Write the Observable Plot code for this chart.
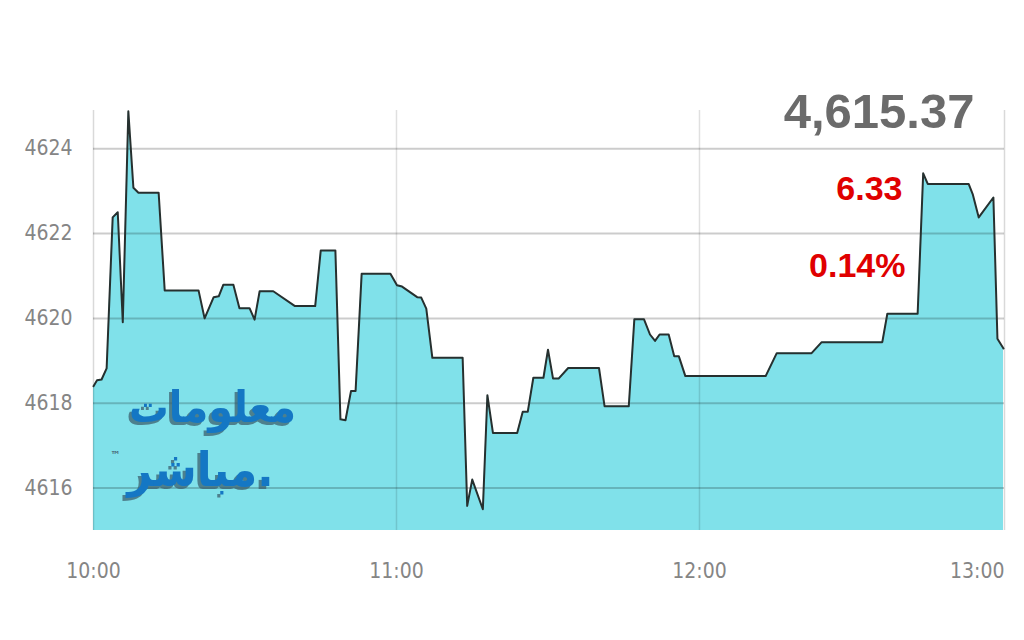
<!DOCTYPE html>
<html>
<head>
<meta charset="utf-8">
<script src="https://cdn.jsdelivr.net/npm/d3@7"></script>
<script src="https://cdn.jsdelivr.net/npm/@observablehq/plot@0.6"></script>
<style>
  html, body { margin: 0; padding: 0; background: #fff; }
  #chart svg { display: block; }
</style>
</head>
<body>
<div id="chart"></div>
<script>
// ---- data ----
const times = [
  "10:00:00","10:00:42","10:01:36","10:02:36","10:03:48","10:04:48","10:05:48","10:06:54","10:07:54","10:08:54",
  "10:12:54","10:14:06","10:20:48","10:22:00","10:23:48","10:24:48","10:25:42","10:27:42","10:28:54","10:30:54",
  "10:31:54","10:32:54","10:35:36","10:39:54","10:43:54","10:45:00","10:47:54","10:48:54","10:49:54","10:51:00",
  "10:51:54","10:53:06","10:58:48","11:00:06","11:01:06","11:04:06","11:04:54","11:05:54","11:07:06","11:13:06",
  "11:14:00","11:15:00","11:17:06","11:18:00","11:19:06","11:23:54","11:25:00","11:26:00","11:27:06","11:29:06",
  "11:30:00","11:31:00","11:32:06","11:34:00","11:40:06","11:41:12","11:46:00","11:47:06","11:49:00","11:50:12",
  "11:51:12","11:52:06","11:53:54","11:55:00","11:55:54","11:57:12","12:13:06","12:15:18","12:22:12","12:24:12",
  "12:36:12","12:37:12","12:43:12","12:44:18","12:45:12","12:53:18","12:54:06","12:55:18","12:58:12","12:59:00",
  "13:00:12"
];
const values = [
  4618.40,4618.54,4618.56,4618.82,4622.38,4622.50,4619.91,4624.88,4623.08,4622.96,
  4622.96,4620.66,4620.66,4620.00,4620.50,4620.52,4620.79,4620.79,4620.24,4620.24,
  4619.97,4620.64,4620.64,4620.29,4620.29,4621.60,4621.60,4617.62,4617.60,4618.29,
  4618.29,4621.05,4621.05,4620.78,4620.75,4620.50,4620.49,4620.23,4619.07,4619.07,
  4615.58,4616.20,4615.50,4618.19,4617.30,4617.30,4617.80,4617.80,4618.60,4618.60,
  4619.26,4618.58,4618.58,4618.83,4618.83,4617.93,4617.93,4619.98,4619.98,4619.62,
  4619.47,4619.62,4619.62,4619.11,4619.11,4618.64,4618.64,4619.18,4619.18,4619.44,
  4619.44,4620.11,4620.11,4623.42,4623.17,4623.17,4622.93,4622.38,4622.85,4619.52,
  4619.29
];
const yTicks = [4616, 4618, 4620, 4622, 4624];
const xTickLabels = ["10:00", "11:00", "12:00", "13:00"];
const xDomainLabels = ["10:00:00", "13:00:24"];
const yDomain = [4615, 4624.9];
const headline = "4,615.37";
const change = "6.33";
const changePct = "0.14%";
const logoLine1 = "معلومات";
const logoLine2 = "مباشر.";

// ---- build ----
const parse = d3.timeParse("%H:%M:%S");
const parseHM = d3.timeParse("%H:%M");
const data = times.map((t, i) => ({ t: parse(t), v: values[i] }));
const xTicks = xTickLabels.map(parseHM);
const xDomain = xDomainLabels.map(parse);
const fmt = d3.timeFormat("%H:%M");
const labelFont = "'DejaVu Sans Condensed', 'Liberation Sans Narrow', 'DejaVu Sans', sans-serif";
const boldFont = "'Liberation Sans', Arial, sans-serif";
const logoFont = "'DejaVu Sans', sans-serif";

const chart = Plot.plot({
  width: 1024,
  height: 640,
  marginLeft: 93,
  marginRight: 20,
  marginTop: 110,
  marginBottom: 110,
  style: { fontFamily: labelFont, fontStretch: "condensed", color: "#858585", background: "#fff" },
  x: { type: "time", domain: xDomain, label: null },
  y: { domain: yDomain, label: null },
  marks: [
    Plot.areaY(data, { x: "t", y1: yDomain[0], y2: "v", fill: "#80e1ea", curve: "linear" }),
    Plot.gridY(yTicks, { stroke: "#000", strokeOpacity: 0.2, strokeWidth: 2 }),
    Plot.gridX(xTicks.slice(1, 3), { stroke: "#000", strokeOpacity: 0.12, strokeWidth: 1.5 }),
    Plot.ruleX(xDomain, { stroke: "#000", strokeOpacity: 0.15, strokeWidth: 1.5 }),
    Plot.lineY(data, { x: "t", y: "v", stroke: "#26302f", strokeWidth: 2, curve: "linear" }),
    Plot.axisY(yTicks, { tickSize: 0, tickPadding: 21, fontSize: 21, label: null, tickFormat: d => String(d) }),
    Plot.axisX(xTicks.slice(0, 3), { tickSize: 0, tickPadding: 33, fontSize: 21, label: null, tickFormat: fmt }),
    Plot.axisX(xTicks.slice(3), { tickSize: 0, tickPadding: 33, fontSize: 21, label: null, tickFormat: fmt, textAnchor: "end", dx: 2 }),
    // headline numbers
    Plot.text([headline], { frameAnchor: "top-right", dx: -30, dy: 2, text: d => d, fontSize: 49, fontWeight: "bold",
      fill: "#6b6b6b", textAnchor: "end", lineAnchor: "middle", fontFamily: boldFont, fontStretch: "normal" }),
    Plot.text([change], { frameAnchor: "top-right", dx: -102, dy: 79, text: d => d, fontSize: 34, fontWeight: "bold",
      fill: "#e00000", textAnchor: "end", lineAnchor: "middle", fontFamily: boldFont, fontStretch: "normal" }),
    Plot.text([changePct], { frameAnchor: "top-right", dx: -99, dy: 156, text: d => d, fontSize: 34, fontWeight: "bold",
      fill: "#e00000", textAnchor: "end", lineAnchor: "middle", fontFamily: boldFont, fontStretch: "normal" }),
    // watermark logo
    Plot.text([logoLine1], { frameAnchor: "top-left", dx: 119, dy: 297, text: d => d, fontSize: 44, fontWeight: "bold",
      fill: "#1477c4", textAnchor: "middle", lineAnchor: "middle", fontFamily: logoFont, fontStretch: "normal" }),
    Plot.text([logoLine2], { frameAnchor: "top-left", dx: 107, dy: 360, text: d => d, fontSize: 48, fontWeight: "bold",
      fill: "#1477c4", textAnchor: "middle", lineAnchor: "middle", fontFamily: logoFont, fontStretch: "normal" }),
    Plot.text(["™"], { frameAnchor: "top-left", dx: 22, dy: 345, text: d => d, fontSize: 11, fontWeight: "bold",
      fill: "#4d6f80", textAnchor: "middle", lineAnchor: "middle", fontFamily: logoFont, fontStretch: "normal" })
  ]
});
// drop shadow on the watermark text (styling only)
d3.select(chart).selectAll("text")
  .filter(function () { return this.textContent === logoLine1 || this.textContent === logoLine2; })
  .style("filter", "drop-shadow(-3px 3px 0px rgba(60,95,110,0.75))");
document.getElementById("chart").appendChild(chart);
</script>
</body>
</html>
